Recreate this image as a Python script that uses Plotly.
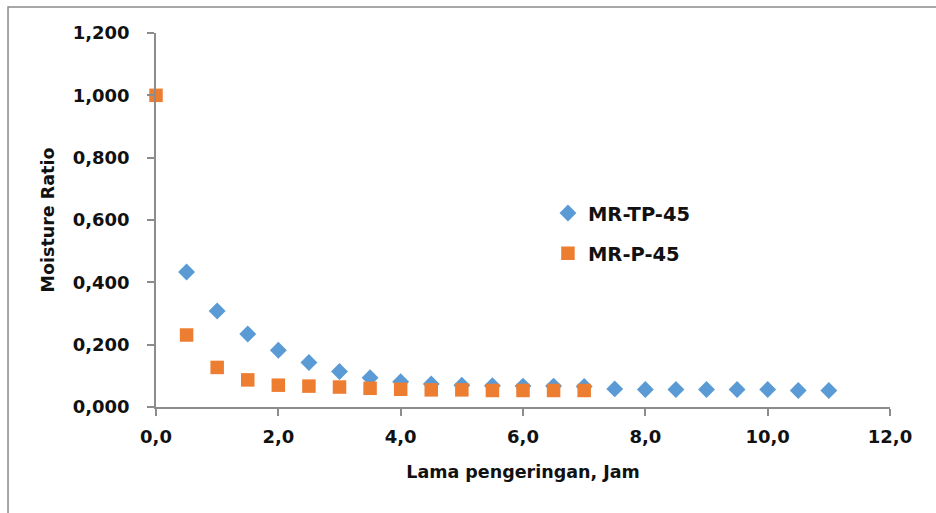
import plotly.graph_objects as go

# Drying time (hours)
time_tp = [0.5, 1.0, 1.5, 2.0, 2.5, 3.0, 3.5, 4.0, 4.5, 5.0, 5.5, 6.0, 6.5, 7.0,
           7.5, 8.0, 8.5, 9.0, 9.5, 10.0, 10.5, 11.0]
mr_tp = [0.433, 0.308, 0.234, 0.182, 0.143, 0.114, 0.094, 0.081, 0.074, 0.070,
         0.068, 0.067, 0.067, 0.066, 0.058, 0.056, 0.056, 0.056, 0.056, 0.056,
         0.053, 0.053]

time_p = [0.0, 0.5, 1.0, 1.5, 2.0, 2.5, 3.0, 3.5, 4.0, 4.5, 5.0, 5.5, 6.0, 6.5, 7.0]
mr_p = [1.000, 0.231, 0.127, 0.087, 0.070, 0.067, 0.064, 0.060, 0.057, 0.055,
        0.055, 0.053, 0.053, 0.053, 0.053]

x_ticks = [0, 2, 4, 6, 8, 10, 12]
y_ticks = [0.0, 0.2, 0.4, 0.6, 0.8, 1.0, 1.2]

FONT = "DejaVu Sans"
AXIS_GRAY = "#8c8c8c"
TEXT = "#111111"

fig = go.Figure()
fig.add_trace(go.Scatter(
    x=time_tp, y=mr_tp, mode="markers", name="MR-TP-45", legendgroup="tp",
    marker=dict(symbol="diamond", size=13, color="#5B9BD5"),
    cliponaxis=False,
))
fig.add_trace(go.Scatter(
    x=time_p, y=mr_p, mode="markers", name="MR-P-45", legendgroup="p",
    marker=dict(symbol="square", size=13.5, color="#ED7D31"),
    cliponaxis=False,
))

fig.update_layout(
    width=936, height=513,
    margin=dict(l=156, r=46, t=33, b=106),
    paper_bgcolor="white", plot_bgcolor="white",
    separators=",.",
    font=dict(family=FONT, size=17, color=TEXT),
    showlegend=True,
    legend=dict(
        x=0.534, y=0.57, xanchor="left", yanchor="top",
        font=dict(family=FONT, size=19.5, color=TEXT, weight="bold"),
        traceorder="grouped", tracegroupgap=12,
        bgcolor="rgba(0,0,0,0)", itemwidth=30,
    ),
    xaxis=dict(
        range=[0, 12], tickvals=x_ticks, tickformat=".1f",
        showgrid=False, zeroline=False,
        showline=True, linecolor=AXIS_GRAY, linewidth=1.5,
        ticks="outside", ticklen=7, tickcolor=AXIS_GRAY, tickwidth=1.5,
        ticklabelstandoff=6,
        tickfont=dict(family=FONT, size=18, color=TEXT, weight="bold"),
        title=dict(text="Lama pengeringan, Jam", standoff=19,
                   font=dict(family=FONT, size=17.5, color=TEXT, weight="bold")),
    ),
    yaxis=dict(
        range=[0, 1.2], tickvals=y_ticks, tickformat=".3f",
        showgrid=False, zeroline=False,
        showline=True, linecolor=AXIS_GRAY, linewidth=1.5,
        ticks="outside", ticklen=7, tickcolor=AXIS_GRAY, tickwidth=1.5,
        ticklabelstandoff=14,
        tickfont=dict(family=FONT, size=18, color=TEXT, weight="bold"),
        title=dict(text="Moisture Ratio", standoff=14,
                   font=dict(family=FONT, size=17.5, color=TEXT, weight="bold")),
    ),
    shapes=[dict(
        type="rect", xref="paper", yref="paper",
        x0=-0.2016, x1=1.3, y0=-0.5, y1=1.0695,
        line=dict(color="#8a8a8a", width=1.5), fillcolor="rgba(0,0,0,0)",
        layer="below",
    )],
)

fig.write_html("out.html")
